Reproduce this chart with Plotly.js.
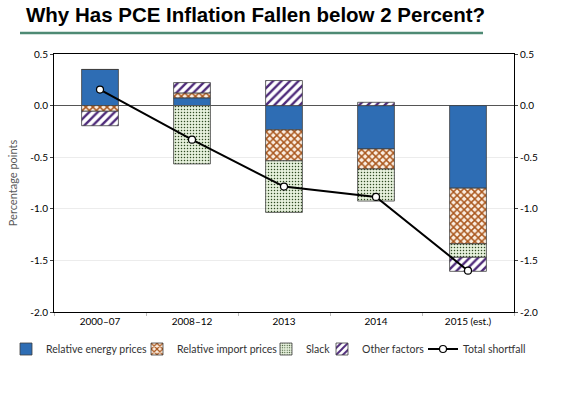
<!DOCTYPE html>
<html>
<head>
<meta charset="utf-8">
<script src="https://cdn.plot.ly/plotly-3.0.1.min.js"></script>
<style>html,body{margin:0;padding:0;background:#fff;}#chart{width:569px;height:398px;}</style>
</head>
<body>
<div id="chart"></div>
<script>
var categories = ['2000\u201307', '2008\u201312', '2013', '2014', '2015 (est.)'];
var energy = [0.35, 0.075, -0.235, -0.42, -0.80];
var imports = [-0.055, 0.048, -0.30, -0.195, -0.54];
var slack = [0, -0.565, -0.50, -0.31, -0.13];
var other = [-0.14, 0.10, 0.243, 0.032, -0.136];
var total = [0.155, -0.33, -0.785, -0.885, -1.60];
var tickVals = [0.5, 0.0, -0.5, -1.0, -1.5, -2.0];
var tickText = ['0.5', '0.0', '-0.5', '-1.0', '-1.5', '-2.0'];

var edge = {color: '#404040', width: 0.8};
var traces = [
  {type: 'bar', name: 'Relative energy prices', x: categories, y: energy, width: 0.4, legend: 'legend',
   marker: {color: '#2E6DB4', line: edge}},
  {type: 'bar', name: 'Relative import prices', x: categories, y: imports, width: 0.4, legend: 'legend2',
   marker: {color: '#ffffff', line: edge,
     pattern: {shape: 'x', fgcolor: '#A9561C', bgcolor: '#FBEEE2', size: 5, solidity: 0.5}}},
  {type: 'bar', name: 'Slack', x: categories, y: slack, width: 0.4, legend: 'legend3',
   marker: {color: '#E6F0DC', line: edge,
     pattern: {shape: '.', fgcolor: '#2F4A22', bgcolor: '#E6F0DC', size: 3, solidity: 0.2}}},
  {type: 'bar', name: 'Other factors', x: categories, y: other, width: 0.4, legend: 'legend4',
   marker: {color: '#ffffff', line: edge,
     pattern: {shape: '/', fgcolor: '#4E2A7A', bgcolor: '#ffffff', size: 6, solidity: 0.4}}},
  {type: 'scatter', mode: 'lines+markers', name: 'Total shortfall', x: categories, y: total, legend: 'legend5',
   line: {color: '#000000', width: 2},
   marker: {symbol: 'circle', size: 7, color: '#ffffff', line: {color: '#000000', width: 1.2}}},
  {type: 'scatter', mode: 'markers', x: categories, y: total, yaxis: 'y2', showlegend: false,
   hoverinfo: 'skip', marker: {opacity: 0}}
];

function px(v) { return (v - 54) / 460; }
var legY = (312 - 349) / 258;
var legFont = {family: 'Lato, "Liberation Sans", sans-serif', size: 10.5, color: '#333'};
function leg(xPix) {
  return {orientation: 'h', x: px(xPix), xanchor: 'left', y: legY, yanchor: 'middle',
    font: legFont, itemwidth: 30, bgcolor: 'rgba(0,0,0,0)', borderwidth: 0};
}

var layout = {
  width: 569, height: 398,
  margin: {l: 54, r: 55, t: 54, b: 86, autoexpand: false},
  paper_bgcolor: '#ffffff', plot_bgcolor: '#ffffff',
  barmode: 'relative', bargap: 0.6,
  font: {family: 'Lato, "Liberation Sans", sans-serif', size: 10, color: '#000'},
  title: {text: '<b>Why Has PCE Inflation Fallen below 2 Percent?</b>',
    font: {family: '"Liberation Sans", Arial, sans-serif', size: 20.5, color: '#000'},
    x: 26/569, xanchor: 'left', xref: 'container', y: 1 - 15/398, yanchor: 'middle', yref: 'container'},
  xaxis: {type: 'category', showline: true, linecolor: '#000', linewidth: 1, mirror: true,
    ticks: 'outside', tickson: 'boundaries', ticklen: 3, tickcolor: '#bbb',
    showgrid: false, tickfont: {size: 10, color: '#000'}},
  yaxis: {range: [-2, 0.5], tickvals: tickVals, ticktext: tickText, showline: true,
    linecolor: '#000', linewidth: 1, mirror: true, ticks: 'outside', ticklen: 3,
    showgrid: true, gridcolor: '#ececec', gridwidth: 1,
    zeroline: true, zerolinecolor: '#555', zerolinewidth: 1,
    tickfont: {size: 10, color: '#000'},
    title: {text: 'Percentage points', font: {size: 11, color: '#595959'}, standoff: 10}},
  yaxis2: {range: [-2, 0.5], tickvals: tickVals, ticktext: tickText, overlaying: 'y',
    side: 'right', showgrid: false, zeroline: false, showline: false,
    ticks: 'outside', ticklen: 3, tickfont: {size: 10, color: '#000'}},
  legend: leg(6),
  legend2: leg(137),
  legend3: leg(266),
  legend4: leg(322),
  legend5: leg(423),
  shapes: [{type: 'line', xref: 'paper', yref: 'paper', x0: (20-54)/460, x1: (483-54)/460,
    y0: 1 + (54-33)/258, y1: 1 + (54-33)/258, line: {color: '#4E8A74', width: 2.5}}]
};

Plotly.newPlot('chart', traces, layout, {displayModeBar: false, staticPlot: true});
</script>
</body>
</html>
